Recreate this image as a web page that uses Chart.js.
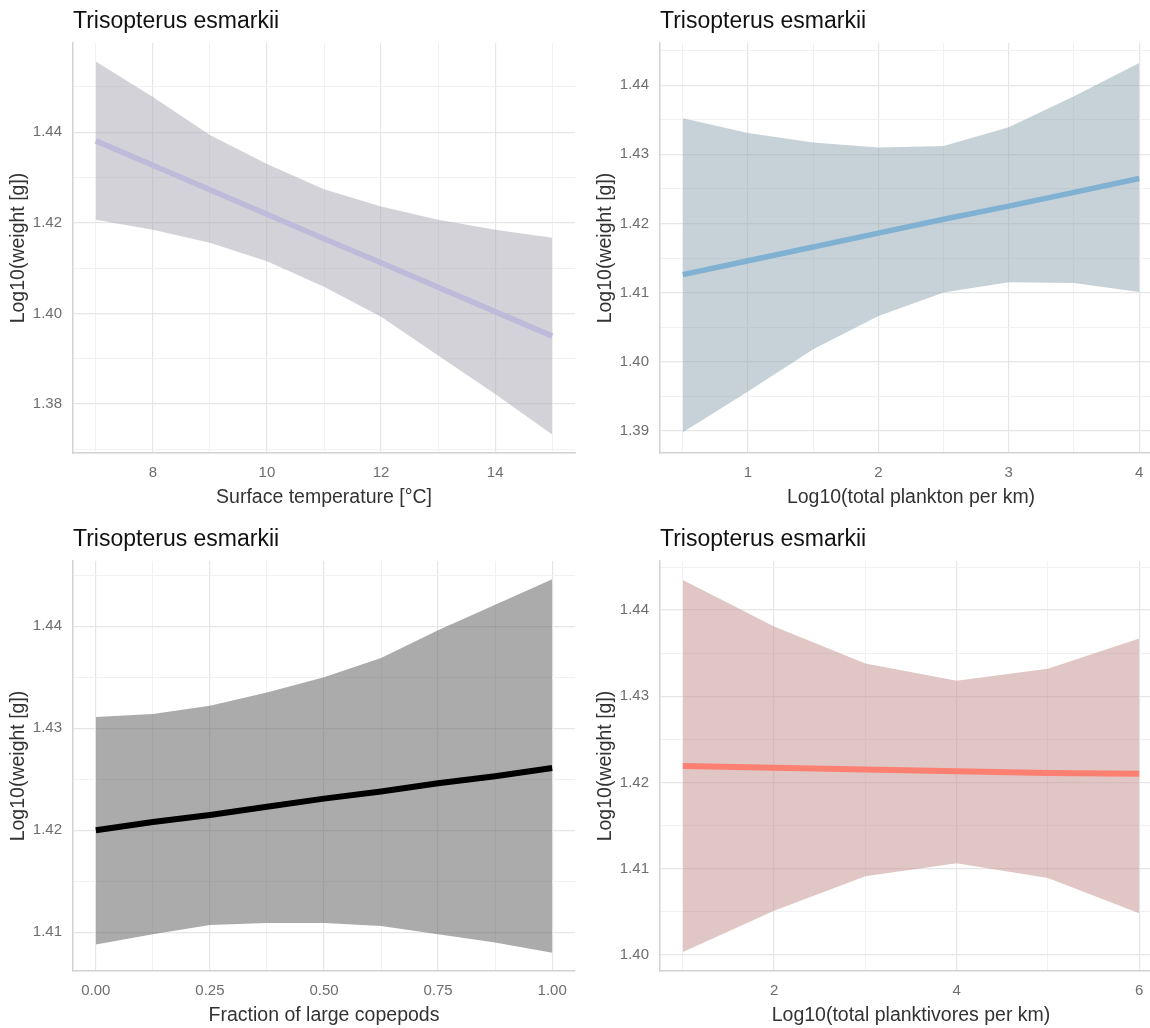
<!DOCTYPE html>
<html><head><meta charset="utf-8">
<script src="https://cdn.jsdelivr.net/npm/chart.js@4.4.1/dist/chart.umd.min.js"></script>
<style>
html,body{margin:0;padding:0;background:#fff;overflow:hidden;width:1150px;height:1028px;position:relative;}
.panel{position:absolute;width:587px;height:518px;}
</style></head><body>
<div class="panel" style="left:0;top:0"><canvas id="c1" width="587" height="518"></canvas></div>
<div class="panel" style="left:587px;top:0"><canvas id="c2" width="587" height="518"></canvas></div>
<div class="panel" style="left:0;top:518px"><canvas id="c3" width="587" height="518"></canvas></div>
<div class="panel" style="left:587px;top:518px"><canvas id="c4" width="587" height="518"></canvas></div>
<script>
// ---------- DATA ----------
const speciesTitle = 'Trisopterus esmarkii';
const yAxisTitle = 'Log10(weight [g])';

// Panel 1: surface temperature
const tempX     = [7, 8, 9, 10, 11, 12, 13, 14, 15];
const tempFit   = [1.4381, 1.4327, 1.4273, 1.4219, 1.4165, 1.4112, 1.4058, 1.4004, 1.3950];
const tempUpper = [1.4556, 1.4478, 1.4394, 1.4330, 1.4274, 1.4236, 1.4207, 1.4185, 1.4167];
const tempLower = [1.4207, 1.4185, 1.4156, 1.4115, 1.4059, 1.3993, 1.3907, 1.3822, 1.3733];
const tempXTicks = [8, 10, 12, 14];
const tempXTickLabels = ['8', '10', '12', '14'];
const tempYTicks = [1.38, 1.40, 1.42, 1.44];
const tempYTickLabels = ['1.38', '1.40', '1.42', '1.44'];

// Panel 2: total plankton
const planktonX     = [0.5, 1, 1.5, 2, 2.5, 3, 3.5, 4];
const planktonFit   = [1.4126, 1.4146, 1.4166, 1.4186, 1.4206, 1.4225, 1.4245, 1.4265];
const planktonUpper = [1.4352, 1.4331, 1.4317, 1.4310, 1.4312, 1.4339, 1.4384, 1.4432];
const planktonLower = [1.3898, 1.3957, 1.4018, 1.4066, 1.4100, 1.4115, 1.4114, 1.4101];
const planktonXTicks = [1, 2, 3, 4];
const planktonXTickLabels = ['1', '2', '3', '4'];
const planktonYTicks = [1.39, 1.40, 1.41, 1.42, 1.43, 1.44];
const planktonYTickLabels = ['1.39', '1.40', '1.41', '1.42', '1.43', '1.44'];

// Panel 3: fraction of large copepods
const copeX     = [0, 0.125, 0.25, 0.375, 0.5, 0.625, 0.75, 0.875, 1];
const copeFit   = [1.4200, 1.4208, 1.4215, 1.4223, 1.4231, 1.4238, 1.4246, 1.4253, 1.4261];
const copeUpper = [1.4311, 1.4314, 1.4322, 1.4335, 1.4350, 1.4369, 1.4396, 1.4421, 1.4446];
const copeLower = [1.4088, 1.4098, 1.4107, 1.4109, 1.4109, 1.4106, 1.4098, 1.4090, 1.4080];
const copeXTicks = [0, 0.25, 0.5, 0.75, 1];
const copeXTickLabels = ['0.00', '0.25', '0.50', '0.75', '1.00'];
const copeYTicks = [1.41, 1.42, 1.43, 1.44];
const copeYTickLabels = ['1.41', '1.42', '1.43', '1.44'];

// Panel 4: total planktivores
const pivX     = [1, 2, 3, 4, 5, 6];
const pivFit   = [1.4219, 1.4217, 1.4215, 1.4213, 1.4211, 1.4210];
const pivUpper = [1.4435, 1.4381, 1.4338, 1.4318, 1.4332, 1.4367];
const pivLower = [1.4003, 1.4051, 1.4091, 1.4106, 1.4089, 1.4048];
const pivXTicks = [2, 4, 6];
const pivXTickLabels = ['2', '4', '6'];
const pivYTicks = [1.40, 1.41, 1.42, 1.43, 1.44];
const pivYTickLabels = ['1.40', '1.41', '1.42', '1.43', '1.44'];

// ---------- STYLE ----------
const FONT = '"Liberation Sans", Arial, Helvetica, sans-serif';
Chart.defaults.font.family = FONT;
const GRID_MAJOR = '#e6e6e6';
const GRID_MINOR = '#f1f1f1';
const TICK_COLOR = '#6e6e6e';
const AXIS_TITLE_COLOR = '#333333';

const titlePlugin = {
  id: 'panelTitle',
  afterDraw(chart, args, opts) {
    const ctx = chart.ctx;
    ctx.save();
    ctx.font = '23px ' + FONT;
    ctx.fillStyle = '#111111';
    ctx.textBaseline = 'alphabetic';
    ctx.textAlign = 'left';
    ctx.fillText(opts.text, chart.chartArea.left, opts.baseline);
    ctx.restore();
  }
};

function near(a, b) { return Math.abs(a - b) < 1e-9; }

function midpoints(majors, lo, hi) {
  const step = majors[1] - majors[0];
  const out = [];
  for (let v = majors[0] - step / 2; v < hi; v += step) {
    if (v > lo) out.push(Math.round(v * 1e6) / 1e6);
  }
  return out;
}

function axis(majors, labels, lo, hi, title, isX) {
  const minors = midpoints(majors, lo, hi);
  const all = majors.concat(minors).sort((a, b) => a - b);
  return {
    type: 'linear',
    position: isX ? 'bottom' : 'left',
    min: lo, max: hi,
    afterBuildTicks: (s) => { s.ticks = all.map(v => ({ value: v })); },
    afterFit: (s) => { if (isX) s.height = 65; else s.width = 73; },
    ticks: {
      autoSkip: false,
      maxRotation: 0,
      padding: isX ? 11 : 11,
      color: TICK_COLOR,
      font: { size: 15 },
      callback: (v) => {
        const i = majors.findIndex(m => near(m, v));
        return i >= 0 ? labels[i] : '';
      }
    },
    grid: {
      drawTicks: false,
      color: (c) => (c.tick && majors.some(m => near(m, c.tick.value))) ? GRID_MAJOR : GRID_MINOR,
      lineWidth: (c) => (c.tick && majors.some(m => near(m, c.tick.value))) ? 1.2 : 1
    },
    border: { display: true, color: '#d2d2d2', width: 1.5 },
    title: {
      display: true, text: title, color: AXIS_TITLE_COLOR,
      font: { size: 19.5 },
      padding: isX ? { top: 0, bottom: 9 } : { top: 7, bottom: 0 }
    }
  };
}

function pts(xs, ys) { return xs.map((x, i) => ({ x: x, y: ys[i] })); }

function panel(id, p) {
  new Chart(document.getElementById(id), {
    type: 'line',
    data: {
      datasets: [
        { data: pts(p.x, p.fit), borderColor: p.lineColor, borderWidth: p.lineWidth,
          pointRadius: 0, tension: 0, fill: false, borderCapStyle: 'butt' },
        { data: pts(p.x, p.upper), borderWidth: 0, borderColor: 'rgba(0,0,0,0)',
          backgroundColor: p.bandColor, pointRadius: 0, tension: 0, fill: '+1' },
        { data: pts(p.x, p.lower), borderWidth: 0, borderColor: 'rgba(0,0,0,0)',
          pointRadius: 0, tension: 0, fill: false }
      ]
    },
    options: {
      responsive: false,
      animation: false,
      layout: { padding: { top: 43, right: 12, left: 0, bottom: 0 } },
      plugins: {
        legend: { display: false },
        tooltip: { enabled: false },
        panelTitle: { text: speciesTitle, baseline: 28 }
      },
      scales: {
        x: axis(p.xTicks, p.xLabels, p.xMin, p.xMax, p.xTitle, true),
        y: axis(p.yTicks, p.yLabels, p.yMin, p.yMax, yAxisTitle, false)
      }
    },
    plugins: [titlePlugin]
  });
}

panel('c1', { x: tempX, fit: tempFit, upper: tempUpper, lower: tempLower,
  lineColor: '#bebada', lineWidth: 5.5, bandColor: 'rgba(167,165,179,0.5)',
  xTicks: tempXTicks, xLabels: tempXTickLabels, xMin: 6.6, xMax: 15.4, xTitle: 'Surface temperature [°C]',
  yTicks: tempYTicks, yLabels: tempYTickLabels, yMin: 1.3692, yMax: 1.4597 });

panel('c2', { x: planktonX, fit: planktonFit, upper: planktonUpper, lower: planktonLower,
  lineColor: '#80b1d3', lineWidth: 5.5, bandColor: 'rgba(143,165,177,0.5)',
  xTicks: planktonXTicks, xLabels: planktonXTickLabels, xMin: 0.325, xMax: 4.175, xTitle: 'Log10(total plankton per km)',
  yTicks: planktonYTicks, yLabels: planktonYTickLabels, yMin: 1.3868, yMax: 1.4461 });

panel('c3', { x: copeX, fit: copeFit, upper: copeUpper, lower: copeLower,
  lineColor: '#000000', lineWidth: 6, bandColor: 'rgba(87,87,87,0.5)',
  xTicks: copeXTicks, xLabels: copeXTickLabels, xMin: -0.05, xMax: 1.05, xTitle: 'Fraction of large copepods',
  yTicks: copeYTicks, yLabels: copeYTickLabels, yMin: 1.4062, yMax: 1.4464 });

panel('c4', { x: pivX, fit: pivFit, upper: pivUpper, lower: pivLower,
  lineColor: '#fb8072', lineWidth: 6, bandColor: 'rgba(193,141,137,0.5)',
  xTicks: pivXTicks, xLabels: pivXTickLabels, xMin: 0.75, xMax: 6.25, xTitle: 'Log10(total planktivores per km)',
  yTicks: pivYTicks, yLabels: pivYTickLabels, yMin: 1.3981, yMax: 1.4457 });
</script>
</body></html>
